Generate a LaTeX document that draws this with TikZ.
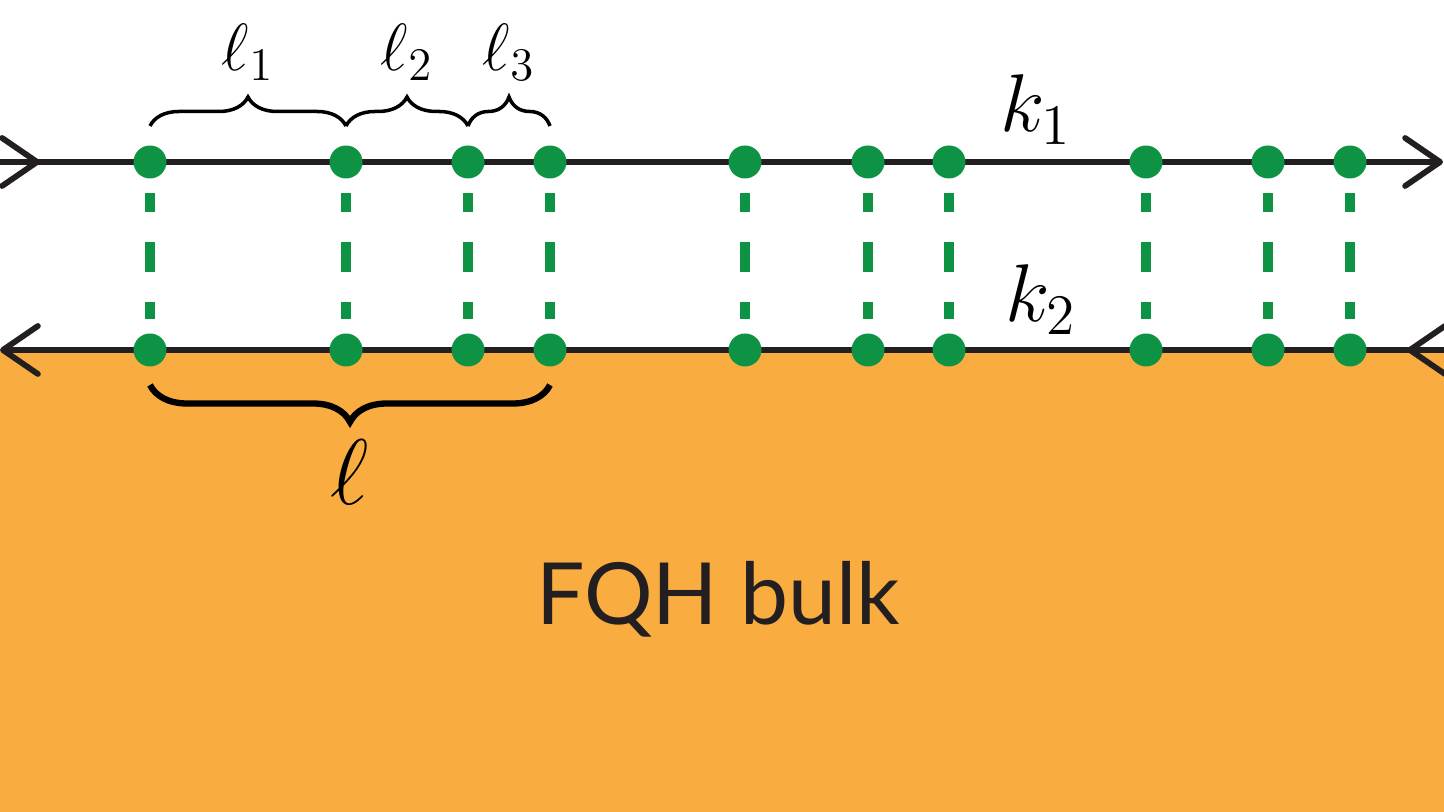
\RequirePackage{fix-cm}
\documentclass[tikz,border=0pt]{standalone}
\usepackage{fontspec}
\newfontfamily\bulkfont{Lato}
\usetikzlibrary{arrows.meta,decorations.pathreplacing}
\definecolor{bulkorange}{HTML}{F9AD41}
\definecolor{dotgreen}{HTML}{0E9345}
\definecolor{wireblack}{HTML}{231F20}

\begin{document}
\begin{tikzpicture}[
    wire/.style={draw=wireblack, line width=1.65pt},
    barb/.style={-{Straight Barb[length=0.35cm, width=0.48cm, round]}},
    dot/.style={circle, fill=dotgreen, inner sep=0pt, minimum size=0.33cm},
    rung/.style={draw=dotgreen, line width=0.1cm, shorten <=0.14cm, shorten >=0.14cm, dash pattern=on 0.19cm off 0.30cm on 0.30cm off 0.30cm},
    tbrace/.style={decorate, decoration={brace, amplitude=0.29cm}, line width=1pt, draw=black},
    bbrace/.style={decorate, decoration={brace, amplitude=0.37cm}, line width=1.8pt, draw=black},
    lbl/.style={anchor=base, font=\fontsize{19}{22}\selectfont}
]
\useasboundingbox (0,0) rectangle (14.44,8.12);
\fill[bulkorange] (0,0) rectangle (14.44,4.62);

% edge channels
\coordinate (tl) at (0,6.50);
\coordinate (tm) at (0.40,6.50);
\coordinate (tr) at (14.43,6.50);
\coordinate (br) at (14.46,4.62);
\coordinate (bm) at (14.07,4.62);
\coordinate (bl) at (0,4.62);

\draw[wire, barb] (tl) -- (tm);
\draw[wire, barb] (tl) -- (tr);
\draw[wire, barb] (br) -- (bm);
\draw[wire, barb] (br) -- (bl);

% tunnelling points
\foreach \x [count=\i] in {1.50,3.46,4.68,5.50,7.45,8.68,9.49,11.46,12.68,13.50} {
    \node[dot] (t\i) at (\x,6.50) {};
    \node[dot] (b\i) at (\x,4.62) {};
}
\foreach \i in {1,...,10}
    \draw[rung] (t\i) -- (b\i);

% lengths
\draw[tbrace] ([yshift=0.36cm]t1.center) -- ([yshift=0.36cm]t2.center) node[lbl, midway, yshift=0.55cm] {$\ell_1$};
\draw[tbrace] ([yshift=0.36cm]t2.center) -- ([yshift=0.36cm]t3.center) node[lbl, midway, yshift=0.55cm] {$\ell_2$};
\draw[tbrace] ([yshift=0.36cm]t3.center) -- ([yshift=0.36cm]t4.center) node[lbl, midway, yshift=0.55cm] {$\ell_3$};
\draw[bbrace] ([yshift=-0.35cm]b4.center) -- ([yshift=-0.35cm]b1.center) node[midway, yshift=-1.20cm, anchor=base, font=\fontsize{26.5}{30}\selectfont] {$\ell$};

\node[anchor=base, font=\fontsize{23.3}{27}\selectfont] (k1) at (10.36,6.80) {$k_1$};
\node[anchor=base, font=\fontsize{23.3}{27}\selectfont] (k2) at (10.41,4.90) {$k_2$};

\node[anchor=base, font=\bulkfont\fontsize{24.4}{29}\selectfont, text=wireblack] (bulk) at (7.18,1.87) {FQH bulk};
\end{tikzpicture}
\end{document}
